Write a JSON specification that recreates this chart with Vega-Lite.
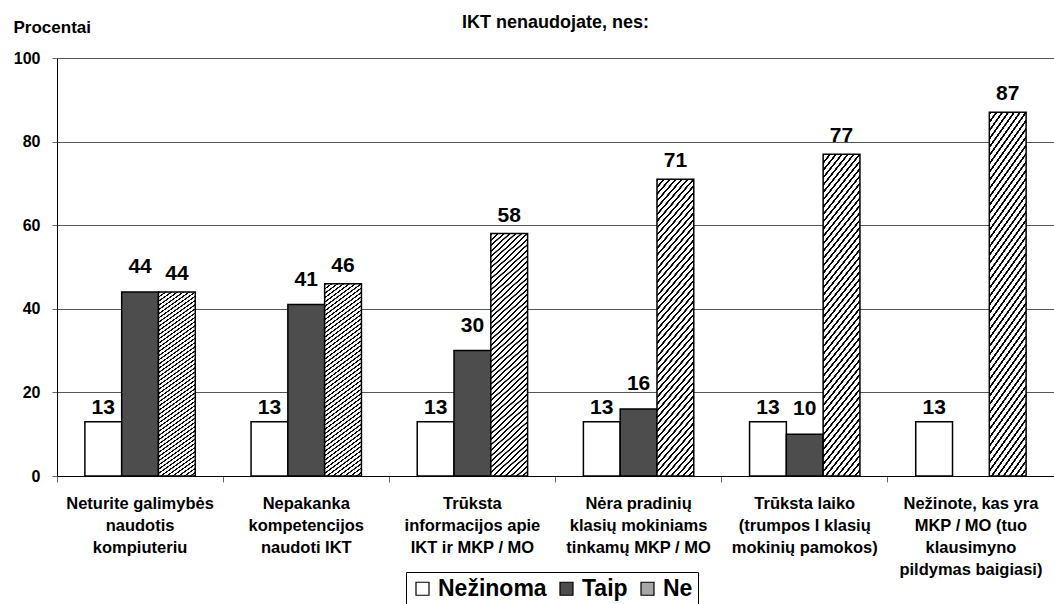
{
  "$schema": "https://vega.github.io/schema/vega-lite/v6.json",
  "width": 997,
  "height": 418,
  "autosize": {"type": "none"},
  "padding": {"left": 57, "top": 58, "right": 0, "bottom": 128},
  "background": "white",
  "title": {
    "text": "IKT nenaudojate, nes:",
    "anchor": "middle",
    "frame": "group",
    "font": "Liberation Sans",
    "fontSize": 18,
    "fontWeight": "bold",
    "color": "black",
    "baseline": "alphabetic",
    "offset": -28
  },
  "config": {
    "view": {"stroke": null},
    "font": "Liberation Sans"
  },
  "data": {
    "values": [
      {"cat": "Neturite galimybės|naudotis|kompiuteriu", "series": "Nežinoma", "value": 13},
      {"cat": "Neturite galimybės|naudotis|kompiuteriu", "series": "Taip", "value": 44},
      {"cat": "Neturite galimybės|naudotis|kompiuteriu", "series": "Ne", "value": 44},
      {"cat": "Nepakanka|kompetencijos|naudoti IKT", "series": "Nežinoma", "value": 13},
      {"cat": "Nepakanka|kompetencijos|naudoti IKT", "series": "Taip", "value": 41},
      {"cat": "Nepakanka|kompetencijos|naudoti IKT", "series": "Ne", "value": 46},
      {"cat": "Trūksta|informacijos apie|IKT ir MKP / MO", "series": "Nežinoma", "value": 13},
      {"cat": "Trūksta|informacijos apie|IKT ir MKP / MO", "series": "Taip", "value": 30},
      {"cat": "Trūksta|informacijos apie|IKT ir MKP / MO", "series": "Ne", "value": 58},
      {"cat": "Nėra pradinių|klasių mokiniams|tinkamų MKP / MO", "series": "Nežinoma", "value": 13},
      {"cat": "Nėra pradinių|klasių mokiniams|tinkamų MKP / MO", "series": "Taip", "value": 16},
      {"cat": "Nėra pradinių|klasių mokiniams|tinkamų MKP / MO", "series": "Ne", "value": 71},
      {"cat": "Trūksta laiko|(trumpos I klasių|mokinių pamokos)", "series": "Nežinoma", "value": 13},
      {"cat": "Trūksta laiko|(trumpos I klasių|mokinių pamokos)", "series": "Taip", "value": 10},
      {"cat": "Trūksta laiko|(trumpos I klasių|mokinių pamokos)", "series": "Ne", "value": 77},
      {"cat": "Nežinote, kas yra|MKP / MO (tuo|klausimyno|pildymas baigiasi)", "series": "Nežinoma", "value": 13},
      {"cat": "Nežinote, kas yra|MKP / MO (tuo|klausimyno|pildymas baigiasi)", "series": "Ne", "value": 87}
    ]
  },
  "encoding": {
    "x": {
      "field": "cat",
      "type": "nominal",
      "sort": null,
      "scale": {"paddingInner": 0, "paddingOuter": 0},
      "axis": {
        "title": null,
        "labelAngle": 0,
        "bandPosition": 0,
        "labelOffset": 0,
        "labelExpr": "split(datum.value, '|')",
        "labelFont": "Liberation Sans",
        "labelFontSize": 16.5,
        "labelFontWeight": "bold",
        "labelColor": "black",
        "labelLineHeight": 22,
        "labelBaseline": "top",
        "labelAlign": "center",
        "labelPadding": 13,
        "labelLimit": 400,
        "labelOverlap": false,
        "labelBound": false,
        "labelFlush": false,
        "tickSize": 6,
        "tickColor": "#666666",
        "domainColor": "black",
        "domainWidth": 1,
        "grid": false
      }
    },
    "xOffset": {
      "field": "series",
      "type": "nominal",
      "sort": ["Nežinoma", "Taip", "Ne"],
      "scale": {"domain": ["Nežinoma", "Taip", "Ne"], "paddingInner": 0, "paddingOuter": 0.758}
    },
    "y": {
      "field": "value",
      "type": "quantitative",
      "scale": {"domain": [0, 100], "nice": false},
      "axis": {
        "values": [0, 20, 40, 60, 80, 100],
        "title": "Procentai",
        "titleAngle": 0,
        "titleAlign": "left",
        "titleBaseline": "alphabetic",
        "titleX": -44,
        "titleY": -26,
        "titleFont": "Liberation Sans",
        "titleFontSize": 17,
        "titleFontWeight": "bold",
        "titleColor": "black",
        "labelFont": "Liberation Sans",
        "labelFontSize": 16,
        "labelFontWeight": "bold",
        "labelColor": "black",
        "labelPadding": 12,
        "tickSize": 5,
        "tickColor": "#666666",
        "domainColor": "black",
        "domainWidth": 1,
        "grid": true,
        "gridColor": "#555555",
        "gridWidth": 1
      }
    }
  },
  "layer": [
    {
      "mark": {"type": "bar", "stroke": "black", "strokeWidth": 1.5},
      "encoding": {
        "fill": {
          "field": "series",
          "type": "nominal",
          "scale": {"domain": ["Nežinoma", "Taip", "Ne"], "range": ["#ffffff", "#4d4d4d", "#a6a6a6"]},
          "condition": {
            "test": "datum.series === 'Ne'",
            "value": {
              "gradient": "linear",
              "x1": 0, "y1": 0, "x2": 0.159, "y2": 1.119,
              "stops": [
                {"offset":0,"color":"#fff"},{"offset":0.001,"color":"#000"},{"offset":0.007,"color":"#000"},{"offset":0.008,"color":"#fff"},
                {"offset":0.02,"color":"#fff"},{"offset":0.021,"color":"#000"},{"offset":0.027,"color":"#000"},{"offset":0.028,"color":"#fff"},
                {"offset":0.04,"color":"#fff"},{"offset":0.041,"color":"#000"},{"offset":0.047,"color":"#000"},{"offset":0.048,"color":"#fff"},
                {"offset":0.06,"color":"#fff"},{"offset":0.061,"color":"#000"},{"offset":0.067,"color":"#000"},{"offset":0.068,"color":"#fff"},
                {"offset":0.08,"color":"#fff"},{"offset":0.081,"color":"#000"},{"offset":0.087,"color":"#000"},{"offset":0.088,"color":"#fff"},
                {"offset":0.1,"color":"#fff"},{"offset":0.101,"color":"#000"},{"offset":0.107,"color":"#000"},{"offset":0.108,"color":"#fff"},
                {"offset":0.12,"color":"#fff"},{"offset":0.121,"color":"#000"},{"offset":0.127,"color":"#000"},{"offset":0.128,"color":"#fff"},
                {"offset":0.14,"color":"#fff"},{"offset":0.141,"color":"#000"},{"offset":0.147,"color":"#000"},{"offset":0.148,"color":"#fff"},
                {"offset":0.16,"color":"#fff"},{"offset":0.161,"color":"#000"},{"offset":0.167,"color":"#000"},{"offset":0.168,"color":"#fff"},
                {"offset":0.18,"color":"#fff"},{"offset":0.181,"color":"#000"},{"offset":0.187,"color":"#000"},{"offset":0.188,"color":"#fff"},
                {"offset":0.2,"color":"#fff"},{"offset":0.201,"color":"#000"},{"offset":0.207,"color":"#000"},{"offset":0.208,"color":"#fff"},
                {"offset":0.22,"color":"#fff"},{"offset":0.221,"color":"#000"},{"offset":0.227,"color":"#000"},{"offset":0.228,"color":"#fff"},
                {"offset":0.24,"color":"#fff"},{"offset":0.241,"color":"#000"},{"offset":0.247,"color":"#000"},{"offset":0.248,"color":"#fff"},
                {"offset":0.26,"color":"#fff"},{"offset":0.261,"color":"#000"},{"offset":0.267,"color":"#000"},{"offset":0.268,"color":"#fff"},
                {"offset":0.28,"color":"#fff"},{"offset":0.281,"color":"#000"},{"offset":0.287,"color":"#000"},{"offset":0.288,"color":"#fff"},
                {"offset":0.3,"color":"#fff"},{"offset":0.301,"color":"#000"},{"offset":0.307,"color":"#000"},{"offset":0.308,"color":"#fff"},
                {"offset":0.32,"color":"#fff"},{"offset":0.321,"color":"#000"},{"offset":0.327,"color":"#000"},{"offset":0.328,"color":"#fff"},
                {"offset":0.34,"color":"#fff"},{"offset":0.341,"color":"#000"},{"offset":0.347,"color":"#000"},{"offset":0.348,"color":"#fff"},
                {"offset":0.36,"color":"#fff"},{"offset":0.361,"color":"#000"},{"offset":0.367,"color":"#000"},{"offset":0.368,"color":"#fff"},
                {"offset":0.38,"color":"#fff"},{"offset":0.381,"color":"#000"},{"offset":0.387,"color":"#000"},{"offset":0.388,"color":"#fff"},
                {"offset":0.4,"color":"#fff"},{"offset":0.401,"color":"#000"},{"offset":0.407,"color":"#000"},{"offset":0.408,"color":"#fff"},
                {"offset":0.42,"color":"#fff"},{"offset":0.421,"color":"#000"},{"offset":0.427,"color":"#000"},{"offset":0.428,"color":"#fff"},
                {"offset":0.44,"color":"#fff"},{"offset":0.441,"color":"#000"},{"offset":0.447,"color":"#000"},{"offset":0.448,"color":"#fff"},
                {"offset":0.46,"color":"#fff"},{"offset":0.461,"color":"#000"},{"offset":0.467,"color":"#000"},{"offset":0.468,"color":"#fff"},
                {"offset":0.48,"color":"#fff"},{"offset":0.481,"color":"#000"},{"offset":0.487,"color":"#000"},{"offset":0.488,"color":"#fff"},
                {"offset":0.5,"color":"#fff"},{"offset":0.501,"color":"#000"},{"offset":0.507,"color":"#000"},{"offset":0.508,"color":"#fff"},
                {"offset":0.52,"color":"#fff"},{"offset":0.521,"color":"#000"},{"offset":0.527,"color":"#000"},{"offset":0.528,"color":"#fff"},
                {"offset":0.54,"color":"#fff"},{"offset":0.541,"color":"#000"},{"offset":0.547,"color":"#000"},{"offset":0.548,"color":"#fff"},
                {"offset":0.56,"color":"#fff"},{"offset":0.561,"color":"#000"},{"offset":0.567,"color":"#000"},{"offset":0.568,"color":"#fff"},
                {"offset":0.58,"color":"#fff"},{"offset":0.581,"color":"#000"},{"offset":0.587,"color":"#000"},{"offset":0.588,"color":"#fff"},
                {"offset":0.6,"color":"#fff"},{"offset":0.601,"color":"#000"},{"offset":0.607,"color":"#000"},{"offset":0.608,"color":"#fff"},
                {"offset":0.62,"color":"#fff"},{"offset":0.621,"color":"#000"},{"offset":0.627,"color":"#000"},{"offset":0.628,"color":"#fff"},
                {"offset":0.64,"color":"#fff"},{"offset":0.641,"color":"#000"},{"offset":0.647,"color":"#000"},{"offset":0.648,"color":"#fff"},
                {"offset":0.66,"color":"#fff"},{"offset":0.661,"color":"#000"},{"offset":0.667,"color":"#000"},{"offset":0.668,"color":"#fff"},
                {"offset":0.68,"color":"#fff"},{"offset":0.681,"color":"#000"},{"offset":0.687,"color":"#000"},{"offset":0.688,"color":"#fff"},
                {"offset":0.7,"color":"#fff"},{"offset":0.701,"color":"#000"},{"offset":0.707,"color":"#000"},{"offset":0.708,"color":"#fff"},
                {"offset":0.72,"color":"#fff"},{"offset":0.721,"color":"#000"},{"offset":0.727,"color":"#000"},{"offset":0.728,"color":"#fff"},
                {"offset":0.74,"color":"#fff"},{"offset":0.741,"color":"#000"},{"offset":0.747,"color":"#000"},{"offset":0.748,"color":"#fff"},
                {"offset":0.76,"color":"#fff"},{"offset":0.761,"color":"#000"},{"offset":0.767,"color":"#000"},{"offset":0.768,"color":"#fff"},
                {"offset":0.78,"color":"#fff"},{"offset":0.781,"color":"#000"},{"offset":0.787,"color":"#000"},{"offset":0.788,"color":"#fff"},
                {"offset":0.8,"color":"#fff"},{"offset":0.801,"color":"#000"},{"offset":0.807,"color":"#000"},{"offset":0.808,"color":"#fff"},
                {"offset":0.82,"color":"#fff"},{"offset":0.821,"color":"#000"},{"offset":0.827,"color":"#000"},{"offset":0.828,"color":"#fff"},
                {"offset":0.84,"color":"#fff"},{"offset":0.841,"color":"#000"},{"offset":0.847,"color":"#000"},{"offset":0.848,"color":"#fff"},
                {"offset":0.86,"color":"#fff"},{"offset":0.861,"color":"#000"},{"offset":0.867,"color":"#000"},{"offset":0.868,"color":"#fff"},
                {"offset":0.88,"color":"#fff"},{"offset":0.881,"color":"#000"},{"offset":0.887,"color":"#000"},{"offset":0.888,"color":"#fff"},
                {"offset":0.9,"color":"#fff"},{"offset":0.901,"color":"#000"},{"offset":0.907,"color":"#000"},{"offset":0.908,"color":"#fff"},
                {"offset":0.92,"color":"#fff"},{"offset":0.921,"color":"#000"},{"offset":0.927,"color":"#000"},{"offset":0.928,"color":"#fff"},
                {"offset":0.94,"color":"#fff"},{"offset":0.941,"color":"#000"},{"offset":0.947,"color":"#000"},{"offset":0.948,"color":"#fff"},
                {"offset":0.96,"color":"#fff"},{"offset":0.961,"color":"#000"},{"offset":0.967,"color":"#000"},{"offset":0.968,"color":"#fff"},
                {"offset":0.98,"color":"#fff"},{"offset":0.981,"color":"#000"},{"offset":0.987,"color":"#000"},{"offset":0.988,"color":"#fff"},
                {"offset":1,"color":"#fff"}
              ]
            }
          },
          "legend": {
            "title": null,
            "orient": "none",
            "legendX": 349,
            "legendY": 514,
            "direction": "horizontal",
            "strokeColor": "black",
            "fillColor": "white",
            "padding": 5,
            "symbolType": "square",
            "symbolSize": 169,
            "symbolStrokeColor": "black",
            "symbolStrokeWidth": 1.2,
            "labelFont": "Liberation Sans",
            "labelFontSize": 23,
            "labelFontWeight": "bold",
            "labelColor": "black",
            "labelOffset": 4,
            "columnPadding": 8
          }
        }
      }
    },
    {
      "transform": [{"filter": "datum.series === 'Nežinoma'"}],
      "mark": {"type": "text", "dy": -13.5, "baseline": "middle", "font": "Liberation Sans", "fontSize": 21, "fontWeight": "bold", "color": "black"},
      "encoding": {"text": {"field": "value", "type": "quantitative"}}
    },
    {
      "transform": [{"filter": "datum.series === 'Taip'"}],
      "mark": {"type": "text", "dy": -25, "baseline": "middle", "font": "Liberation Sans", "fontSize": 21, "fontWeight": "bold", "color": "black"},
      "encoding": {"text": {"field": "value", "type": "quantitative"}}
    },
    {
      "transform": [{"filter": "datum.series === 'Ne'"}],
      "mark": {"type": "text", "dy": -18, "baseline": "middle", "font": "Liberation Sans", "fontSize": 21, "fontWeight": "bold", "color": "black"},
      "encoding": {"text": {"field": "value", "type": "quantitative"}}
    }
  ]
}
